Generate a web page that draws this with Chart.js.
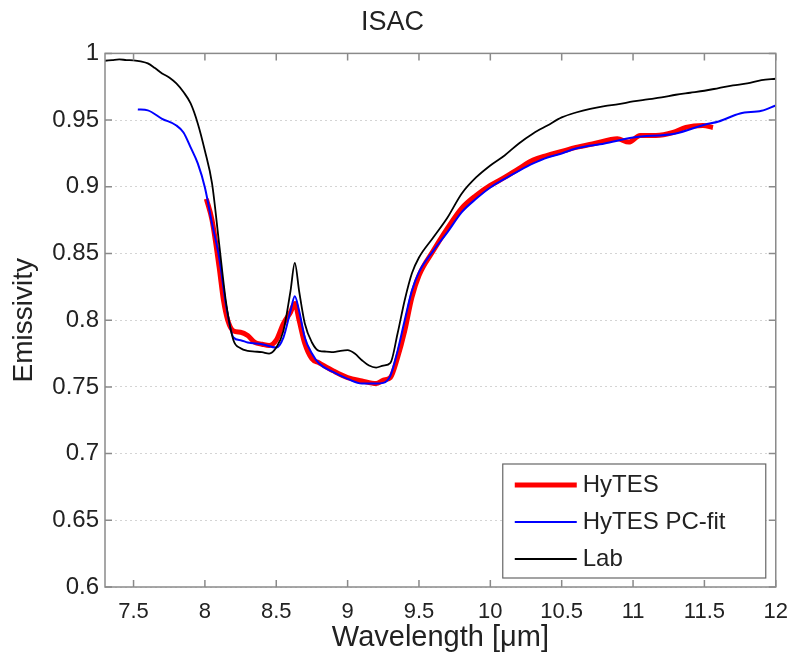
<!DOCTYPE html>
<html>
<head>
<meta charset="utf-8">
<script src="https://cdn.jsdelivr.net/npm/chart.js@4/dist/chart.umd.min.js"></script>
<style>
  html, body { margin: 0; padding: 0; background: #fff; }
  #wrap { width: 800px; height: 658px; }
</style>
</head>
<body>
<div id="wrap"><canvas id="c" width="800" height="658"></canvas></div>
<script>
// tick values
var xTicks = [7.5, 8, 8.5, 9, 9.5, 10, 10.5, 11, 11.5, 12];
var yTicks = [0.6, 0.65, 0.7, 0.75, 0.8, 0.85, 0.9, 0.95, 1];

// Lab spectrum
var labX = [7.3, 7.35, 7.4, 7.45, 7.5, 7.55, 7.6, 7.65, 7.7, 7.75, 7.8, 7.85, 7.9, 7.95, 8.0, 8.05, 8.1, 8.15,
  8.2, 8.25, 8.3, 8.35, 8.4, 8.45, 8.5, 8.55, 8.6, 8.63, 8.66, 8.7, 8.75, 8.8, 8.85, 8.9, 8.95, 9.0, 9.05, 9.1,
  9.15, 9.2, 9.25, 9.3, 9.35, 9.4, 9.45, 9.5, 9.6, 9.7, 9.8, 9.9, 10.0, 10.1, 10.2, 10.3, 10.4, 10.5, 10.6,
  10.7, 10.8, 10.9, 11.0, 11.1, 11.2, 11.3, 11.4, 11.5, 11.6, 11.7, 11.8, 11.9, 12.0];
var labY = [0.9945, 0.995, 0.9955, 0.995, 0.9948, 0.994, 0.9925, 0.989, 0.985, 0.982, 0.9775, 0.971, 0.9625, 0.9475, 0.927, 0.9025, 0.857, 0.812,
  0.785, 0.779, 0.777, 0.7765, 0.776, 0.775, 0.7795, 0.792, 0.822, 0.843, 0.822, 0.7975, 0.7833, 0.777, 0.7765, 0.776, 0.777, 0.7775, 0.775, 0.770,
  0.766, 0.7645, 0.766, 0.768, 0.79, 0.815, 0.835, 0.847, 0.862, 0.877, 0.895, 0.907, 0.916, 0.9235, 0.9325, 0.94, 0.946, 0.952, 0.9557,
  0.9585, 0.9605, 0.962, 0.964, 0.9655, 0.967, 0.969, 0.9705, 0.972, 0.974, 0.976, 0.9775, 0.980, 0.981];

// HyTES PC-fit
var fitX = [7.53, 7.6, 7.7, 7.8, 7.85, 7.9, 7.95, 8.0, 8.05, 8.1, 8.15, 8.2, 8.25, 8.3, 8.4, 8.5, 8.55, 8.6, 8.63, 8.66,
  8.7, 8.75, 8.8, 8.9, 9.0, 9.1, 9.2, 9.25, 9.3, 9.35, 9.4, 9.45, 9.5, 9.6, 9.7, 9.8, 9.9, 10.0, 10.1, 10.2, 10.3,
  10.4, 10.5, 10.6, 10.8, 11.0, 11.3, 11.5, 11.6, 11.75, 11.9, 12.0];
var fitY = [0.958, 0.9573, 0.951, 0.946, 0.9407, 0.9295, 0.9175, 0.8995, 0.8725, 0.847, 0.81, 0.787, 0.785, 0.7833, 0.782, 0.7795, 0.787, 0.807, 0.818, 0.807,
  0.787, 0.775, 0.7675, 0.761, 0.756, 0.7525, 0.7525, 0.753, 0.7585, 0.777, 0.80, 0.822, 0.836, 0.852, 0.866, 0.881, 0.891, 0.8995, 0.906, 0.912, 0.9175,
  0.922, 0.925, 0.9287, 0.9325, 0.937, 0.94, 0.9465, 0.949, 0.955, 0.957, 0.961];

// HyTES retrieval
var hytesX = [8.01, 8.05, 8.1, 8.13, 8.16, 8.2, 8.25, 8.3, 8.35, 8.4, 8.45, 8.5, 8.55, 8.6, 8.63, 8.66, 8.7, 8.75, 8.8,
  8.9, 9.0, 9.1, 9.2, 9.25, 9.3, 9.35, 9.4, 9.45, 9.5, 9.6, 9.7, 9.8, 9.9, 10.0, 10.1, 10.2, 10.3, 10.4, 10.5, 10.6,
  10.73, 10.89, 10.97, 11.05, 11.16, 11.28, 11.37, 11.49, 11.56];
var hytesY = [0.891, 0.875, 0.8395, 0.815, 0.80, 0.792, 0.791, 0.7885, 0.7833, 0.782, 0.781, 0.785, 0.7975, 0.806, 0.8125, 0.80, 0.7825, 0.771, 0.768,
  0.762, 0.757, 0.7545, 0.7525, 0.755, 0.757, 0.772, 0.792, 0.817, 0.8335, 0.852, 0.869, 0.884, 0.8935, 0.901, 0.907, 0.9137, 0.92, 0.9235, 0.9265, 0.9295,
  0.9325, 0.936, 0.9335, 0.9385, 0.9385, 0.9407, 0.9445, 0.946, 0.9445];

var seriesNames = ['HyTES', 'HyTES PC-fit', 'Lab'];

function toPoints(xs, ys) {
  var out = [];
  for (var i = 0; i < xs.length; i++) out.push({ x: xs[i], y: ys[i] });
  return out;
}

var FONT = '"Liberation Sans", Arial, sans-serif';
var AXIS_COLOR = '#8a8a8a';
var TEXT_COLOR = '#222';

// matlab-like frame: box + inward ticks on all four sides
var framePlugin = {
  id: 'frame',
  afterDatasetsDraw: function (chart) {
    var ctx = chart.ctx, a = chart.chartArea;
    var xs = chart.scales.x, ys = chart.scales.y;
    var len = 7;
    ctx.save();
    ctx.strokeStyle = AXIS_COLOR;
    ctx.lineWidth = 1.5;
    ctx.beginPath();
    xTicks.forEach(function (v) {
      var px = xs.getPixelForValue(v);
      ctx.moveTo(px, a.bottom); ctx.lineTo(px, a.bottom - len);
      ctx.moveTo(px, a.top); ctx.lineTo(px, a.top + len);
    });
    yTicks.forEach(function (v) {
      var py = ys.getPixelForValue(v);
      ctx.moveTo(a.left, py); ctx.lineTo(a.left + len, py);
      ctx.moveTo(a.right, py); ctx.lineTo(a.right - len, py);
    });
    ctx.stroke();
    ctx.strokeRect(a.left, a.top, a.right - a.left, a.bottom - a.top);
    ctx.restore();
  }
};

// legend box in the lower right corner of the plot
var legendPlugin = {
  id: 'boxLegend',
  afterDraw: function (chart) {
    var ctx = chart.ctx, a = chart.chartArea;
    var bx = a.right - 273, by = a.bottom - 123, bw = 263, bh = 114;
    ctx.save();
    ctx.fillStyle = '#fff';
    ctx.fillRect(bx, by, bw, bh);
    ctx.strokeStyle = '#666';
    ctx.lineWidth = 1.2;
    ctx.strokeRect(bx, by, bw, bh);
    ctx.font = '24px ' + FONT;
    ctx.textBaseline = 'middle';
    ctx.fillStyle = TEXT_COLOR;
    var rows = [21, 58, 95];
    chart.data.datasets.forEach(function (ds, i) {
      var y = by + rows[i];
      ctx.strokeStyle = ds.borderColor;
      ctx.lineWidth = ds.borderWidth;
      ctx.beginPath();
      ctx.moveTo(bx + 12, y);
      ctx.lineTo(bx + 74, y);
      ctx.stroke();
      ctx.fillText(ds.label, bx + 80, y);
    });
    ctx.restore();
  }
};

new Chart(document.getElementById('c'), {
  type: 'line',
  data: {
    datasets: [
      { label: seriesNames[0], data: toPoints(hytesX, hytesY), borderColor: '#ff0000', borderWidth: 5, order: 3 },
      { label: seriesNames[1], data: toPoints(fitX, fitY), borderColor: '#0000ff', borderWidth: 2, order: 2 },
      { label: seriesNames[2], data: toPoints(labX, labY), borderColor: '#000000', borderWidth: 1.8, order: 1 }
    ]
  },
  options: {
    responsive: false,
    animation: false,
    events: [],
    parsing: false,
    elements: {
      point: { radius: 0 },
      line: { tension: 0.35, cubicInterpolationMode: 'monotone', fill: false }
    },
    layout: { padding: { left: 0, right: 15, top: 0, bottom: 0 } },
    plugins: {
      legend: { display: false },
      tooltip: { enabled: false },
      title: {
        display: true,
        text: 'ISAC',
        color: TEXT_COLOR,
        font: { family: FONT, size: 27, weight: 'normal' },
        padding: { top: 6, bottom: 15 }
      }
    },
    scales: {
      x: {
        type: 'linear',
        min: 7.3,
        max: 12,
        afterBuildTicks: function (s) { s.ticks = xTicks.map(function (v) { return { value: v }; }); },
        afterFit: function (s) { s.height = 71; },
        grid: { display: false, drawTicks: false },
        border: { display: false },
        ticks: {
          color: TEXT_COLOR,
          padding: 12,
          maxRotation: 0,
          autoSkip: false,
          font: { family: FONT, size: 22 },
          callback: function (v) { return String(+(+v).toFixed(2)); }
        },
        title: {
          display: true,
          text: 'Wavelength [\u03bcm]',
          color: TEXT_COLOR,
          font: { family: FONT, size: 29 },
          padding: { top: 0, bottom: 3 }
        }
      },
      y: {
        type: 'linear',
        min: 0.6,
        max: 1,
        afterBuildTicks: function (s) { s.ticks = yTicks.map(function (v) { return { value: v }; }); },
        afterFit: function (s) { s.width = 105; },
        grid: { color: '#d4d4d4', lineWidth: 1, drawTicks: false, borderDash: [2, 3] },
        border: { display: false, dash: [2, 3] },
        ticks: {
          color: TEXT_COLOR,
          padding: 6,
          autoSkip: false,
          font: { family: FONT, size: 24 },
          callback: function (v) { return String(+(+v).toFixed(2)); }
        },
        title: {
          display: true,
          text: 'Emissivity',
          color: TEXT_COLOR,
          font: { family: FONT, size: 28 },
          padding: { top: 7, bottom: 0 }
        }
      }
    }
  },
  plugins: [framePlugin, legendPlugin]
});
</script>
</body>
</html>
